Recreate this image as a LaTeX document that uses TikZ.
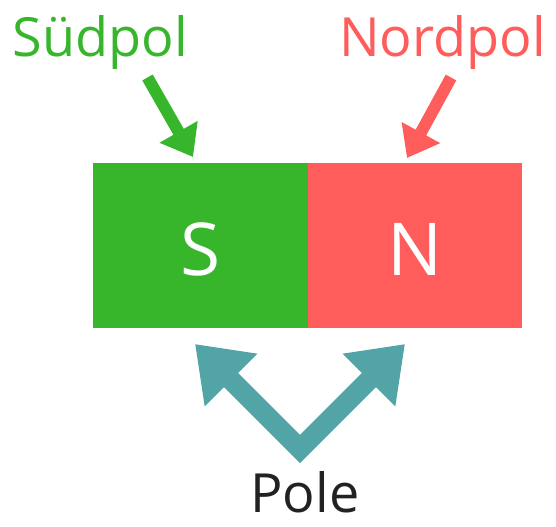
\documentclass[tikz,border=0pt]{standalone}
\usepackage{fontspec}
\setmainfont{Open Sans}
\usetikzlibrary{arrows.meta}
\definecolor{sgreen}{HTML}{37B62C}
\definecolor{nred}{HTML}{FF5C5C}
\definecolor{poleteal}{HTML}{53A4A7}
\definecolor{txtblack}{HTML}{222222}
\tikzset{
  magnet/.style={inner sep=0pt, outer sep=0pt, minimum width=214.4bp, minimum height=165.6bp},
  label/.style={inner sep=0pt, anchor=base, font=\fontsize{54bp}{60bp}\selectfont},
  letter/.style={inner sep=0pt, anchor=base, text=white, font=\fontsize{73bp}{80bp}\selectfont},
  pointer/.style={line width=12bp, -{Triangle[length=29bp,width=42bp]}},
}
\begin{document}
\begin{tikzpicture}[x=1bp,y=-1bp]
\path[use as bounding box] (0,0) rectangle (556,527);
% magnet
\node[magnet, fill=sgreen] (south) at (200.5,245.5) {};
\node[magnet, fill=nred] (north) at (415.2,245.5) {};
\node[letter] (sletter) at (201,275) {S};
\node[letter] (nletter) at (415,275) {N};
% labels
\node[label, text=sgreen] (sudpol) at (100.5,57) {Südpol};
\node[label, text=nred] (nordpol) at (442.5,57) {Nordpol};
\node[label, text=txtblack] (pole) at (305,512) {Pole};
% pointers
\coordinate (gs) at (147.5,77.5);
\coordinate (gt) at (193,157);
\coordinate (rs) at (451,77.5);
\coordinate (rt) at (407,158);
\draw[pointer, sgreen] (gs) -- (gt);
\draw[pointer, nred] (rs) -- (rt);
% pole arrows
\coordinate (pv) at (300,449);
\coordinate (pl) at (195,344);
\coordinate (pr) at (405,344);
\draw[poleteal, line width=20bp, line join=miter,
  {Triangle[length=51bp,width=71bp]}-{Triangle[length=51bp,width=71bp]}] (pl) -- (pv) -- (pr);
\end{tikzpicture}
\end{document}
